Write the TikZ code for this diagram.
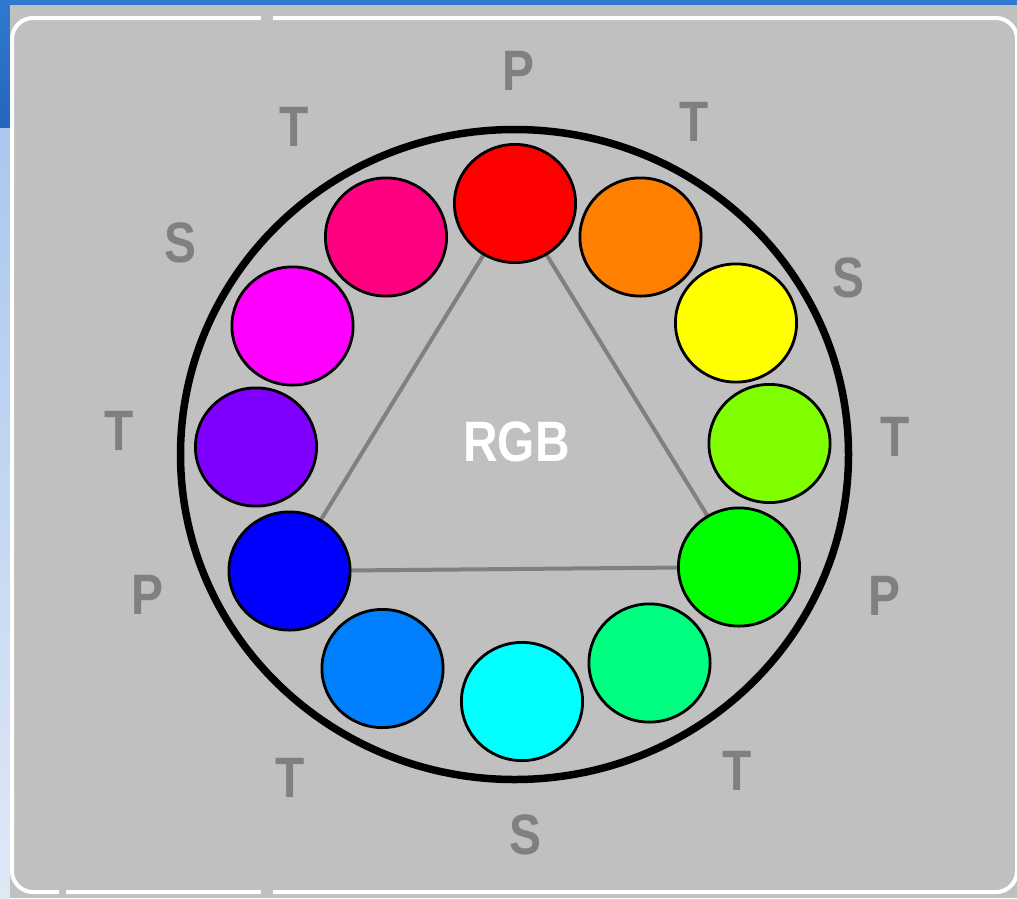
\documentclass[tikz,border=0pt]{standalone}
\usepackage{fontspec}
\setmainfont{Liberation Sans}
\usetikzlibrary{shapes.geometric}
\definecolor{panel}{HTML}{C0C0C0}
\definecolor{lbl}{HTML}{808080}
\definecolor{winblue}{HTML}{3079D0}
\definecolor{winblueb}{HTML}{2565BE}
\definecolor{lightA}{HTML}{A9C7EF}
\definecolor{lightB}{HTML}{E0E8F5}
\definecolor{cRed}{HTML}{FF0000}
\definecolor{cOrange}{HTML}{FF8000}
\definecolor{cYellow}{HTML}{FFFF00}
\definecolor{cChart}{HTML}{80FF00}
\definecolor{cGreen}{HTML}{00FF00}
\definecolor{cSpring}{HTML}{00FF80}
\definecolor{cCyan}{HTML}{00FFFF}
\definecolor{cAzure}{HTML}{0080FF}
\definecolor{cBlue}{HTML}{0000FF}
\definecolor{cViolet}{HTML}{8000FF}
\definecolor{cMagenta}{HTML}{FF00FF}
\definecolor{cRose}{HTML}{FF0080}
\tikzset{
  dot/.style={ellipse, draw=black, line width=2.8pt, inner sep=0pt,
    minimum width=121.2pt, minimum height=118.2pt},
  lab/.style={text=lbl, inner sep=0pt, font=\bfseries\fontsize{57}{57}\selectfont},
  tri/.style={draw=lbl, line width=4pt},
}
\newcommand{\sq}[1]{\scalebox{0.84}[1]{#1}}
\begin{document}
\begin{tikzpicture}[x=1pt,y=-1pt]
\useasboundingbox (0,0) rectangle (1017,898);
% window background
\fill[winblue] (0,0) rectangle (1017,5);
\shade[top color=winblue, bottom color=winblueb] (0,5) rectangle (10,128);
\shade[top color=lightA, bottom color=lightB] (0,128) rectangle (10,898);
% panel
\fill[panel] (10,5) rectangle (1017,898);
\draw[white, line width=4pt, rounded corners=21pt] (12,18) rectangle (1017,892);
\fill[panel] (261,15) rectangle (273,21);
\fill[panel] (261,889) rectangle (273,895);
\fill[panel] (59,889) rectangle (66,895);
% outer ring
\draw[black, line width=7.5pt] (514.5,454.5) ellipse [x radius=334, y radius=325];
% centres
\coordinate (pR) at (515,203.5);
\coordinate (pO) at (640.5,237);
\coordinate (pY) at (736,323);
\coordinate (pC) at (769.5,443.5);
\coordinate (pG) at (739,567);
\coordinate (pS) at (649.5,663);
\coordinate (pCy) at (522,701.5);
\coordinate (pA) at (382.5,668.5);
\coordinate (pB) at (289.5,571);
\coordinate (pV) at (256,447);
\coordinate (pM) at (292.5,326);
\coordinate (pRo) at (386,237);
% triangle
\draw[tri] (pR) -- (pB);
\draw[tri] (pB) -- (pG);
\draw[tri] (pG) -- (pR);
% colour dots
\node[dot, fill=cRed] (red) at (pR) {};
\node[dot, fill=cOrange] (orange) at (pO) {};
\node[dot, fill=cYellow] (yellow) at (pY) {};
\node[dot, fill=cChart] (chart) at (pC) {};
\node[dot, fill=cGreen] (green) at (pG) {};
\node[dot, fill=cSpring] (spring) at (pS) {};
\node[dot, fill=cCyan] (cyan) at (pCy) {};
\node[dot, fill=cAzure] (azure) at (pA) {};
\node[dot, fill=cBlue] (blue) at (pB) {};
\node[dot, fill=cViolet] (violet) at (pV) {};
\node[dot, fill=cMagenta] (magenta) at (pM) {};
\node[dot, fill=cRose] (rose) at (pRo) {};
% centre label
\node[lab, text=white] (rgb) at (516.5,441.5) {\sq{RGB}};
% outer labels
\node[lab] (l1) at (518,70.5) {\sq{P}};
\node[lab] (l2) at (694,122) {\sq{T}};
\node[lab] (l3) at (848,278) {\sq{S}};
\node[lab] (l4) at (895,437) {\sq{T}};
\node[lab] (l5) at (884,596) {\sq{P}};
\node[lab] (l6) at (737,771) {\sq{T}};
\node[lab] (l7) at (525,835) {\sq{S}};
\node[lab] (l8) at (290,778) {\sq{T}};
\node[lab] (l9) at (147,595) {\sq{P}};
\node[lab] (l10) at (119,430.5) {\sq{T}};
\node[lab] (l11) at (180,243) {\sq{S}};
\node[lab] (l12) at (294,126.5) {\sq{T}};
\end{tikzpicture}
\end{document}
